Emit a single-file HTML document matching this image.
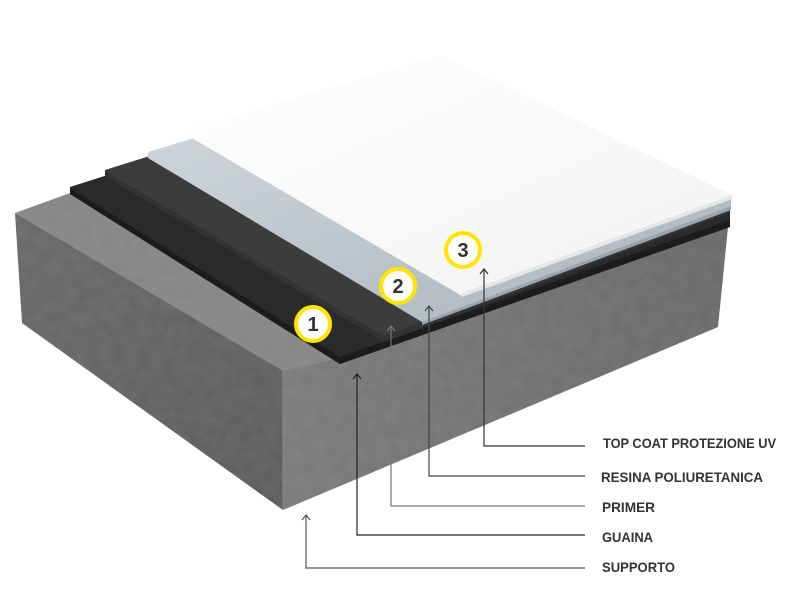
<!DOCTYPE html>
<html><head><meta charset="utf-8"><style>html,body{margin:0;padding:0;background:#fff}svg{display:block}</style></head>
<body>
<svg width="800" height="600" viewBox="0 0 800 600" xmlns="http://www.w3.org/2000/svg">
<defs>
<linearGradient id="cl" x1="0" y1="0" x2="1" y2="1"><stop offset="0" stop-color="#676767"/><stop offset="1" stop-color="#5a5a5a"/></linearGradient>
<linearGradient id="cr" x1="0" y1="0" x2="1" y2="0"><stop offset="0" stop-color="#7a7a7a"/><stop offset="1" stop-color="#676767"/></linearGradient>
<linearGradient id="wh" x1="0" y1="0" x2="1" y2="1"><stop offset="0" stop-color="#ffffff"/><stop offset="1" stop-color="#f2f2f2"/></linearGradient>
<linearGradient id="bl" x1="0" y1="0" x2="1" y2="1"><stop offset="0" stop-color="#d4dade"/><stop offset="1" stop-color="#a8b4bc"/></linearGradient>
<filter id="tx"><feTurbulence type="fractalNoise" baseFrequency="0.08" numOctaves="3" seed="3"/><feColorMatrix type="matrix" values="0 0 0 0 0.45  0 0 0 0 0.45  0 0 0 0 0.45  0 0 0 0.18 0"/><feComposite in2="SourceGraphic" operator="in"/></filter>
</defs>
<!-- concrete -->
<polygon points="15,213 283,370 283,510 22,323" fill="url(#cl)"/>
<polygon points="283,370 728,227 718,327 283,510" fill="url(#cr)"/>
<polygon points="15,213 70,193 340,358 283,371" fill="#858585"/>
<polygon points="15,213 70,193 340,358 728,227 718,327 283,510 22,323" fill="#fff" filter="url(#tx)"/>
<line x1="283" y1="370" x2="283" y2="510" stroke="#8a8a8a" stroke-width="1"/>
<!-- guaina -->
<polygon points="70,187 400,82 730,212 730,227 340,364 70,194" fill="#2a2a2a"/>
<polygon points="70,194 340,364 730,227 730,220 340,357 70,188" fill="#1c1c1c"/>
<!-- primer -->
<polygon points="105,170 400,77 730,204 730,213 384,342 105,176" fill="#3c3c3c"/>
<polygon points="105,176 384,342 730,213 730,209 384,336 105,171" fill="#333"/>
<!-- resina -->
<polygon points="148,152 430,67 731,198 731,208 422,322 148,158" fill="url(#bl)"/>
<polygon points="422,322 731,206 731,210 422,325" fill="#9aa6ae"/>
<!-- top coat -->
<polygon points="185,130 440,55 732,195 732,199 462,296 185,134" fill="url(#wh)"/>
<polygon points="462,293 732,195 732,199 462,297" fill="#e6e6e6"/>
<!-- number badges -->
<g font-family="Liberation Sans, sans-serif" font-weight="bold" font-size="20" fill="#333" text-anchor="middle">
<circle cx="313" cy="324" r="17" fill="#fff" stroke="#ffe500" stroke-width="4"/><text x="313" y="331">1</text>
<circle cx="398" cy="286" r="17" fill="#fff" stroke="#ffe500" stroke-width="4"/><text x="398" y="293">2</text>
<circle cx="463" cy="250" r="17" fill="#fff" stroke="#ffe500" stroke-width="4"/><text x="463" y="257">3</text>
</g>
<!-- leaders -->
<g fill="none" stroke-width="1.2">
<polyline points="484,269 484,446 585,446" stroke="#333"/><polyline points="480,274 484,269 488,274" stroke="#333"/>
<polyline points="429,306 429,476 585,476" stroke="#444"/><polyline points="425,311 429,306 433,311" stroke="#444"/>
<polyline points="391,326 391,506 585,506" stroke="#777"/><polyline points="387,331 391,326 395,331" stroke="#777"/>
<polyline points="357,374 357,535 585,535" stroke="#222"/><polyline points="353,379 357,374 361,379" stroke="#222"/>
<polyline points="306,515 306,568 585,568" stroke="#555"/><polyline points="302,520 306,515 310,520" stroke="#555"/>
</g>
<g font-family="Liberation Sans, sans-serif" font-weight="bold" font-size="14" fill="#333">
<text x="603" y="448" textLength="173" lengthAdjust="spacingAndGlyphs">TOP COAT PROTEZIONE UV</text>
<text x="601" y="482" textLength="162" lengthAdjust="spacingAndGlyphs">RESINA POLIURETANICA</text>
<text x="602" y="512" textLength="53" lengthAdjust="spacingAndGlyphs">PRIMER</text>
<text x="602" y="542" textLength="51" lengthAdjust="spacingAndGlyphs">GUAINA</text>
<text x="602" y="572" textLength="73" lengthAdjust="spacingAndGlyphs">SUPPORTO</text>
</g>
</svg>
</body></html>
